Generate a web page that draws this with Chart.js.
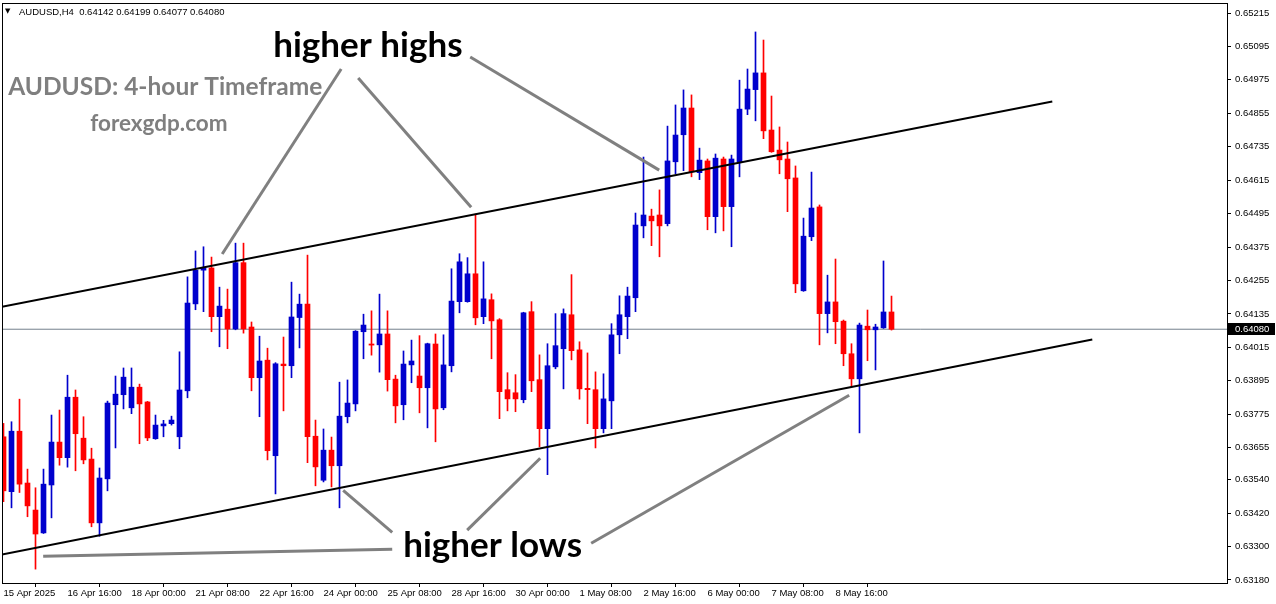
<!DOCTYPE html>
<html>
<head>
<meta charset="utf-8">
<script src="https://cdn.jsdelivr.net/npm/chart.js@4.4.1/dist/chart.umd.min.js"></script>
<style>
  html, body { margin: 0; padding: 0; background: #fff; }
  #wrap { width: 1276px; height: 604px; position: relative; }
</style>
</head>
<body>
<div id="wrap"><canvas id="myChart"></canvas></div>
<script>
// AUDUSD H4 candles, 15 Apr - 9 May 2025
const opens = [0.63694,0.63497,0.63714,0.63528,0.63431,0.63349,0.63521,0.63675,0.63619,0.63836,
  0.63689,0.63614,0.63385,0.63543,0.63809,0.63845,0.63798,0.63872,0.63819,0.63687,
  0.63733,0.63741,0.63694,0.63859,0.64171,0.64292,0.64300,0.64125,0.64152,0.64081,
  0.64319,0.64088,0.63906,0.63969,0.63626,0.63955,0.63949,0.64122,0.64170,0.63696,
  0.63538,0.63646,0.63590,0.63766,0.63812,0.64071,0.64027,0.64024,0.64063,0.63901,
  0.63809,0.63952,0.63912,0.63870,0.64027,0.63798,0.63949,0.64179,0.64179,0.64279,
  0.64125,0.64186,0.64114,0.63863,0.63852,0.63827,0.64143,0.63899,0.63723,0.63945,
  0.64010,0.64132,0.64006,0.63868,0.63863,0.63723,0.63823,0.64060,0.64125,0.64193,
  0.64451,0.64486,0.64490,0.64459,0.64681,0.64778,0.64874,0.64642,0.64684,0.64484,
  0.64691,0.64520,0.64681,0.64870,0.64940,0.65000,0.64795,0.64723,0.64691,0.64623,
  0.64218,0.64412,0.64519,0.64136,0.64178,0.64109,0.63992,0.63902,0.64091,0.64078,
  0.64085,0.64142];
const highs = [0.63742,0.63748,0.63829,0.63578,0.63511,0.63578,0.63772,0.63790,0.63915,0.63862,
  0.63766,0.63653,0.63582,0.63822,0.63912,0.63941,0.63941,0.63883,0.63821,0.63772,
  0.63753,0.63768,0.63999,0.64268,0.64361,0.64376,0.64339,0.64231,0.64224,0.64389,
  0.64389,0.64106,0.64055,0.64012,0.63960,0.64052,0.64249,0.64206,0.64346,0.63754,
  0.63722,0.63693,0.63890,0.63898,0.64075,0.64134,0.64146,0.64206,0.64146,0.63915,
  0.64002,0.64041,0.64057,0.64030,0.64063,0.64060,0.64297,0.64351,0.64337,0.64493,
  0.64322,0.64207,0.64118,0.63924,0.63917,0.64141,0.64179,0.63988,0.64028,0.64136,
  0.64153,0.64276,0.64035,0.63995,0.63927,0.63920,0.64100,0.64200,0.64231,0.64497,
  0.64698,0.64511,0.64580,0.64809,0.64885,0.64939,0.64921,0.64730,0.64691,0.64709,
  0.64698,0.64705,0.64974,0.65014,0.65147,0.65118,0.64917,0.64806,0.64752,0.64666,
  0.64479,0.64644,0.64526,0.64274,0.64332,0.64113,0.64028,0.64102,0.64149,0.64098,
  0.64325,0.64199];
const lows = [0.63461,0.63439,0.63494,0.63407,0.63219,0.63347,0.63403,0.63592,0.63585,0.63572,
  0.63597,0.63371,0.63337,0.63500,0.63654,0.63794,0.63777,0.63669,0.63680,0.63685,
  0.63694,0.63736,0.63651,0.63834,0.64150,0.64143,0.64071,0.64017,0.64010,0.64078,
  0.64066,0.63859,0.63766,0.63611,0.63489,0.63787,0.63906,0.64013,0.63601,0.63518,
  0.63532,0.63514,0.63439,0.63744,0.63787,0.63974,0.63987,0.63926,0.63858,0.63744,
  0.63755,0.63888,0.63780,0.63726,0.63676,0.63791,0.63927,0.64139,0.64177,0.64096,
  0.64100,0.63974,0.63759,0.63787,0.63784,0.63816,0.63856,0.63658,0.63558,0.63938,
  0.63866,0.63970,0.63829,0.63741,0.63654,0.63708,0.63723,0.63992,0.64046,0.64143,
  0.64408,0.64380,0.64340,0.64451,0.64638,0.64649,0.64627,0.64617,0.64437,0.64426,
  0.64433,0.64376,0.64627,0.64850,0.64828,0.64764,0.64715,0.64638,0.64502,0.64211,
  0.64216,0.64398,0.64024,0.64067,0.64028,0.63949,0.63873,0.63708,0.63967,0.63934,
  0.64083,0.64077];
const closes = [0.63500,0.63714,0.63524,0.63446,0.63345,0.63524,0.63675,0.63619,0.63836,0.63705,
  0.63611,0.63385,0.63546,0.63815,0.63847,0.63908,0.63872,0.63812,0.63690,0.63736,
  0.63740,0.63754,0.63862,0.64174,0.64292,0.64300,0.64125,0.64163,0.64081,0.64319,
  0.64081,0.63906,0.63966,0.63644,0.63956,0.63949,0.64124,0.64170,0.63694,0.63586,
  0.63646,0.63590,0.63768,0.63815,0.64073,0.64095,0.64023,0.64063,0.63899,0.63805,
  0.63955,0.63966,0.63870,0.64028,0.63794,0.63952,0.64181,0.64322,0.64279,0.64121,
  0.64189,0.64110,0.63856,0.63830,0.63830,0.64139,0.63895,0.63723,0.63949,0.64021,
  0.64136,0.64003,0.63866,0.63863,0.63723,0.63830,0.64060,0.64132,0.64199,0.64454,
  0.64490,0.64469,0.64451,0.64684,0.64777,0.64874,0.64645,0.64687,0.64484,0.64694,
  0.64520,0.64691,0.64870,0.64942,0.65000,0.64792,0.64717,0.64688,0.64620,0.64243,
  0.64414,0.64515,0.64136,0.64178,0.64107,0.63992,0.63902,0.64095,0.64078,0.64088,
  0.64142,0.64080];

const xTickIdx = [0, 8, 16, 24, 32, 40, 48, 56, 64, 72, 80, 88, 96, 104];
const xTickLabels = ["15 Apr 2025", "16 Apr 16:00", "18 Apr 00:00", "21 Apr 08:00", "22 Apr 16:00",
  "24 Apr 00:00", "25 Apr 08:00", "28 Apr 16:00", "30 Apr 00:00", "1 May 08:00",
  "2 May 16:00", "6 May 00:00", "7 May 08:00", "8 May 16:00"];
const yTicks = [0.65215, 0.65095, 0.64975, 0.64855, 0.64735, 0.64615, 0.64495, 0.64375, 0.64255,
  0.64135, 0.64015, 0.63895, 0.63775, 0.63655, 0.63540, 0.63420, 0.63300, 0.63180];

// channel lines: [barIndex, price]
const upperTrend = [[-0.19, 0.64161], [131.1, 0.64897]];
const lowerTrend = [[-0.19, 0.63271], [136.1, 0.64043]];

// gray pointer lines: [bar1, price1, bar2, price2]
const pointers = [
  [27.34, 0.64350, 42.21, 0.65014],
  [44.34, 0.64982, 58.46, 0.64518],
  [58.34, 0.65057, 81.96, 0.64651],
  [4.96, 0.63265, 48.59, 0.63290],
  [42.46, 0.63502, 48.59, 0.63351],
  [67.09, 0.63617, 57.96, 0.63359],
  [105.71, 0.63843, 73.46, 0.63312]
];
// text notes: [text, bar, price, size, colour]
const notes = [
  ["higher highs", 33.71, 0.65057, 35, "#000"],
  ["higher lows", 49.96, 0.63262, 35, "#000"],
  ["AUDUSD: 4-hour Timeframe", 0.59, 0.64921, 24.5, "#7f7f7f"],
  ["forexgdp.com", 10.84, 0.64791, 22.5, "#7f7f7f"]
];

const xMin = -0.1875, xMax = 152.9375;
const yMin = 0.631692, yMax = 0.652509;
const lastClose = closes[closes.length - 1];

const UP = "#0000cd", DOWN = "#ff0000";
const colors = opens.map((o, i) => closes[i] >= o ? UP : DOWN);

const bodies = opens.map((o, i) => ({ x: i, y: [o, closes[i]] }));
const wicks = lows.map((l, i) => ({ x: i, y: [l, highs[i]] }));

const overlay = {
  id: "overlay",
  afterDatasetsDraw(chart) {
    const { ctx, scales: { x, y } } = chart;
    ctx.save();
    ctx.strokeStyle = "#808080";
    ctx.lineWidth = 3;
    pointers.forEach(([k1, p1, k2, p2]) => {
      ctx.beginPath();
      ctx.moveTo(x.getPixelForValue(k1), y.getPixelForValue(p1));
      ctx.lineTo(x.getPixelForValue(k2), y.getPixelForValue(p2));
      ctx.stroke();
    });
    ctx.textBaseline = "alphabetic";
    ctx.textAlign = "left";
    notes.forEach(([t, k, p, size, col]) => {
      ctx.font = "bold " + size + "px Lato";
      ctx.fillStyle = col;
      ctx.fillText(t, x.getPixelForValue(k), y.getPixelForValue(p));
    });
    ctx.restore();
  },
  afterDraw(chart) {
    const { ctx, chartArea: a, scales: { y } } = chart;
    ctx.save();
    ctx.strokeStyle = "#000";
    ctx.lineWidth = 1;
    ctx.strokeRect(a.left + 0.5, a.top + 0.5, a.right - a.left, a.bottom - a.top);
    // header
    ctx.fillStyle = "#000";
    ctx.font = "7px 'DejaVu Sans'";
    ctx.fillText("▼", a.left + 3, a.top + 10);
    ctx.font = "9.5px 'Liberation Sans'";
    ctx.fillText("AUDUSD,H4  " + [opens[111], highs[111], lows[111], closes[111]].map(v => v.toFixed(5)).join(" "), a.left + 17, a.top + 12);
    // current price box
    const py = Math.round(y.getPixelForValue(lastClose));
    ctx.fillStyle = "#000";
    ctx.fillRect(a.right + 1, py - 6, 47, 12);
    ctx.fillStyle = "#fff";
    ctx.font = "9.5px 'Liberation Sans'";
    ctx.textBaseline = "middle";
    ctx.fillText(lastClose.toFixed(5), a.right + 8, py + 0.5);
    ctx.restore();
  }
};

const ctx = document.getElementById("myChart").getContext("2d");

const config = {
  type: "bar",
  data: {
    datasets: [
      {
        type: "line",
        data: upperTrend.map(([k, p]) => ({ x: k, y: p })),
        borderColor: "#000",
        borderWidth: 2,
        pointRadius: 0
      },
      {
        type: "line",
        data: lowerTrend.map(([k, p]) => ({ x: k, y: p })),
        borderColor: "#000",
        borderWidth: 2,
        pointRadius: 0
      },
      {
        data: bodies,
        backgroundColor: colors,
        barThickness: 5,
        minBarLength: 1,
        grouped: false,
        borderWidth: 0
      },
      {
        data: wicks,
        backgroundColor: colors,
        barThickness: 1,
        grouped: false,
        borderWidth: 0
      },
      {
        type: "line",
        data: [{ x: xMin, y: lastClose }, { x: xMax, y: lastClose }],
        borderColor: "#74808c",
        borderWidth: 1,
        pointRadius: 0
      }
    ]
  },
  options: {
    responsive: true,
    maintainAspectRatio: false,
    animation: false,
    layout: { padding: { left: 2, top: 3, right: 0, bottom: 0 } },
    plugins: { legend: { display: false }, tooltip: { enabled: false } },
    scales: {
      x: {
        type: "linear",
        min: xMin,
        max: xMax,
        offset: false,
        afterBuildTicks: s => { s.ticks = xTickIdx.map(v => ({ value: v })); },
        afterFit: s => { s.height = 21; s.paddingLeft = 0; s.paddingRight = 0; },
        grid: { drawOnChartArea: false, drawTicks: true, tickLength: 4, color: "#000" },
        border: { display: true, color: "#000" },
        ticks: {
          autoSkip: false,
          maxRotation: 0,
          align: "start",
          padding: 1,
          color: "#000",
          font: { family: "Liberation Sans", size: 9.5 },
          callback: (v, i) => xTickLabels[i]
        }
      },
      y: {
        position: "right",
        min: yMin,
        max: yMax,
        afterBuildTicks: s => { s.ticks = yTicks.map(v => ({ value: v })); },
        afterFit: s => { s.width = 49; s.paddingTop = 0; s.paddingBottom = 0; },
        grid: { drawOnChartArea: false, drawTicks: true, tickLength: 4, color: "#000" },
        border: { display: true, color: "#000" },
        ticks: {
          padding: 4,
          color: "#000",
          font: { family: "Liberation Sans", size: 9.5 },
          callback: v => v.toFixed(5)
        }
      }
    }
  },
  plugins: [overlay]
};

const myChart = new Chart(ctx, config);
</script>
</body>
</html>
